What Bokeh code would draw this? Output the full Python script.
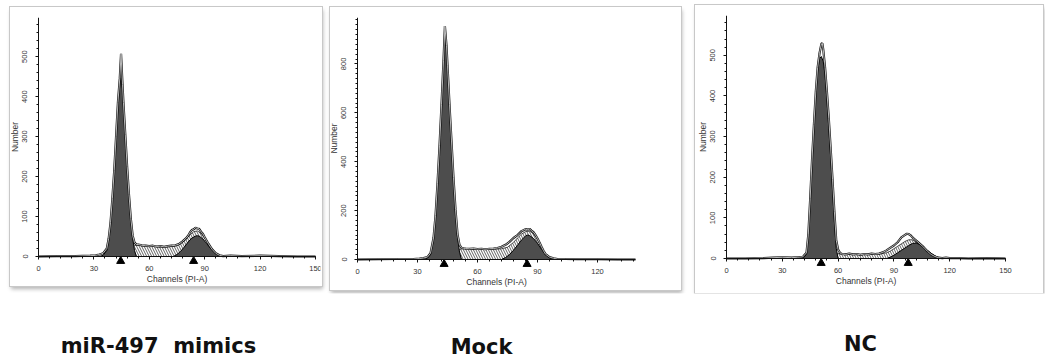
from bokeh.plotting import figure
from bokeh.layouts import row, column
from bokeh.models import Range1d, SingleIntervalTicker
from bokeh.core.properties import value
from bokeh.embed import file_html
from bokeh.resources import INLINE

# ---------------- data ----------------
panel_titles = ["miR-497\u00a0 mimics", "Mock", "NC"]
x_axis_title = "Channels (PI-A)"
y_axis_title = "Number"

# miR-497 mimics
mimics_g1_ch = [33, 35, 37, 38, 39, 40, 41, 42, 43, 44, 44.7, 45.5, 46, 47, 48, 49, 50, 51, 52, 53]
mimics_g1_n = [0, 3, 15, 40, 80, 140, 210, 290, 370, 430, 448, 420, 380, 300, 220, 150, 90, 45, 15, 0]
mimics_s_ch = [48, 50, 52, 54, 58, 62, 66, 70, 74, 77, 80, 82, 84, 86, 88, 90, 92, 94, 96, 98]
mimics_s_n = [0, 20, 28, 28, 26, 25, 24, 24, 26, 32, 44, 54, 62, 64, 58, 46, 30, 16, 6, 0]
mimics_g2_ch = [73, 75, 77, 79, 81, 83, 85, 86, 87, 89, 91, 93, 95, 97, 99]
mimics_g2_n = [0, 5, 13, 24, 36, 46, 51, 52, 51, 44, 33, 21, 11, 4, 0]
mimics_data_ch = [0, 10, 20, 28, 31, 33, 35, 37, 38, 39, 40, 41, 42, 43, 44, 44.7, 45.5, 46, 47, 48,
                  49, 50, 51, 52, 53, 54, 56, 58, 60, 62, 64, 66, 68, 70, 72, 74, 76, 78, 80, 81,
                  82, 83, 84, 85, 86, 87, 88, 89, 90, 91, 92, 94, 96, 98, 100, 104, 110, 120, 130, 140, 150]
mimics_data_n = [0, 1, 1, 2, 3, 5, 8, 20, 45, 85, 145, 215, 300, 385, 445, 507, 430, 385, 305, 225,
                 155, 95, 52, 35, 30, 30, 28, 27, 26, 27, 25, 26, 24, 26, 27, 28, 31, 38, 46, 52,
                 60, 66, 68, 72, 70, 69, 62, 57, 48, 40, 32, 18, 8, 3, 1, 2, 1, 2, 1, 0, 0]
mimics_peaks = [44.5, 84]

# Mock
mock_g1_ch = [33, 35, 36.5, 38, 39, 40, 41, 42, 43, 43.7, 44.5, 45, 46, 47, 48, 49, 50, 51, 52]
mock_g1_n = [0, 5, 20, 80, 170, 300, 450, 620, 800, 925, 860, 780, 620, 470, 320, 190, 90, 30, 0]
mock_s_ch = [47, 49, 51, 53, 56, 60, 64, 68, 72, 75, 78, 80, 82, 84, 86, 88, 90, 92, 94, 96]
mock_s_n = [0, 25, 42, 44, 43, 42, 41, 42, 44, 50, 70, 88, 104, 114, 116, 106, 84, 52, 20, 0]
mock_g2_ch = [72, 74, 76, 78, 80, 82, 84, 85, 86, 88, 90, 92, 94, 96, 98]
mock_g2_n = [0, 8, 20, 38, 58, 80, 96, 100, 98, 86, 66, 42, 20, 6, 0]
mock_data_ch = [0, 10, 20, 28, 31, 33, 35, 36.5, 38, 39, 40, 41, 42, 43, 43.7, 44.5, 45, 46, 47, 48,
                49, 50, 51, 52, 53, 54, 56, 58, 60, 62, 64, 66, 68, 70, 72, 74, 76, 78, 80, 81,
                82, 83, 84, 85, 86, 87, 88, 89, 90, 91, 92, 93, 94, 96, 98, 100, 104, 110, 120, 130, 139]
mock_data_n = [0, 1, 2, 2, 4, 6, 10, 26, 88, 180, 312, 465, 635, 815, 955, 875, 795, 635, 485, 335,
               205, 105, 60, 48, 46, 45, 44, 45, 43, 44, 42, 44, 45, 47, 52, 60, 72, 88, 100, 108,
               116, 120, 124, 122, 125, 118, 112, 100, 86, 70, 52, 36, 22, 10, 5, 2, 2, 1, 1, 0, 0]
mock_peaks = [43.3, 84.8]

# NC
nc_g1_ch = [41, 43, 44, 45, 46, 47, 48, 49, 50, 51, 52, 53, 54, 55, 56, 57, 58, 59, 60]
nc_g1_n = [0, 10, 55, 140, 235, 320, 400, 460, 492, 497, 485, 450, 390, 320, 250, 170, 90, 25, 0]
nc_s_ch = [56, 58, 60, 62, 66, 70, 74, 78, 82, 86, 88, 90, 92, 94, 96, 98, 100, 104, 108, 112, 116]
nc_s_n = [0, 8, 12, 11, 10, 10, 10, 10, 11, 14, 18, 24, 30, 36, 42, 46, 46, 34, 16, 6, 0]
nc_g2_ch = [86, 88, 90, 92, 94, 96, 98, 100, 102, 104, 106, 108, 110, 112, 114, 116]
nc_g2_n = [0, 3, 8, 14, 20, 26, 32, 37, 38, 34, 28, 20, 13, 7, 2, 0]
nc_data_ch = [0, 10, 20, 25, 30, 35, 38, 41, 43, 44, 45, 46, 47, 48, 49, 50, 51, 51.5, 52, 53,
              54, 55, 56, 57, 58, 59, 60, 61, 62, 64, 66, 68, 70, 72, 74, 76, 78, 80, 82, 84,
              86, 88, 90, 92, 93, 94, 95, 96, 97, 98, 99, 100, 101, 102, 104, 106, 108, 110, 112, 114,
              116, 118, 120, 125, 130, 140, 150]
nc_data_n = [0, 0, 1, 2, 3, 2, 3, 4, 14, 60, 148, 245, 330, 410, 470, 505, 528, 530, 515, 470,
             410, 345, 272, 195, 115, 45, 22, 14, 11, 10, 12, 10, 11, 9, 11, 10, 12, 11, 12, 15,
             20, 26, 32, 40, 46, 52, 55, 58, 61, 60, 57, 52, 48, 44, 36, 28, 18, 10, 5, 2,
             1, 2, 1, 1, 0, 1, 0]
nc_peaks = [50.9, 97.7]

# ---------------- styling ----------------
AXIS_FONT = "Liberation Sans"
DARK = "#4d4d4d"


def make_panel(g1, g2, sph, dat, peaks, x_end, y_end, y_step, y_minor,
               axis_w, axis_h, pad, margin):
    # the frame reaches past the axes (both fixed at 0) so that tick labels,
    # axis titles and the peak markers all sit inside it
    left_px, right_px, below_px = pad
    px_x = axis_w / x_end
    px_y = axis_h / y_end
    frame_w = axis_w + left_px + right_px
    frame_h = axis_h + below_px
    p = figure(frame_width=frame_w, frame_height=frame_h,
               x_range=Range1d(-left_px / px_x, x_end + right_px / px_x),
               y_range=Range1d(-below_px / px_y, y_end),
               toolbar_location=None, output_backend="svg", title=None,
               min_border_left=0, min_border_right=2,
               min_border_top=margin[1], min_border_bottom=2,
               margin=(margin[0], 0, 0, margin[2]), background_fill_color="white",
               border_fill_color="white", outline_line_color=None,
               styles={"outline": "1px solid #c8c8c8",
                       "box-shadow": "1px 3px 4px rgba(0,0,0,0.30)"})
    p.grid.visible = False

    # S-phase (hatched)
    p.varea(x=sph[0], y1=0, y2=sph[1], fill_color="white",
            hatch_pattern="left_diagonal_line", hatch_color="#3a3a3a",
            hatch_scale=5, hatch_weight=0.8)
    p.line(sph[0], sph[1], color="#222222", line_width=0.8)
    # G1 / G2 peaks
    for gx, gy in (g1, g2):
        p.varea(x=gx, y1=0, y2=gy, fill_color=DARK)
        p.line(gx, gy, color="black", line_width=1)
    # measured histogram outline
    p.line(dat[0], dat[1], color="#111111", line_width=2.2)
    p.line(dat[0], dat[1], color="#e4e4e4", line_width=0.8)

    # peak markers: small solid triangles under the axis, apex on the axis
    p.scatter(x=peaks, y=[-4.6 / px_y] * len(peaks), marker="triangle",
              size=8, color="black")

    xa = p.xaxis[0]
    ya = p.yaxis[0]
    xa.fixed_location = 0
    ya.fixed_location = 0
    xa.bounds = (0, x_end)
    ya.bounds = (0, y_end)
    xa.ticker = SingleIntervalTicker(interval=30, num_minor_ticks=5)
    ya.ticker = SingleIntervalTicker(interval=y_step, num_minor_ticks=y_minor)
    xa.axis_label = x_axis_title
    ya.axis_label = y_axis_title
    for ax in (xa, ya):
        ax.axis_line_color = "#111111"
        ax.major_tick_line_color = "#111111"
        ax.minor_tick_line_color = "#111111"
        ax.major_tick_out = 3
        ax.major_tick_in = 0
        ax.minor_tick_out = 2
        ax.minor_tick_in = 0
        ax.major_label_text_font = AXIS_FONT
        ax.major_label_text_font_size = "7.5px"
        ax.major_label_text_color = "#333333"
        ax.axis_label_text_font = AXIS_FONT
        ax.axis_label_text_font_size = "8.5px"
        ax.axis_label_text_font_style = "normal"
        ax.axis_label_text_color = "#333333"
        ax.axis_label_standoff = 0
    xa.major_label_standoff = 6
    ya.major_label_standoff = 8
    ya.major_label_orientation = "vertical"
    return p


# axis_w / axis_h: pixel length of the 0..x_end and 0..y_end axes
# pad: (left of x=0, right of x_end, below y=0) in px; margin: (top, border_top, left)
p1 = make_panel((mimics_g1_ch, mimics_g1_n), (mimics_g2_ch, mimics_g2_n),
                (mimics_s_ch, mimics_s_n), (mimics_data_ch, mimics_data_n),
                mimics_peaks, 150, 598, 100, 5,
                277, 239, (28, 5, 30), (7, 8, 10))
p2 = make_panel((mock_g1_ch, mock_g1_n), (mock_g2_ch, mock_g2_n),
                (mock_s_ch, mock_s_n), (mock_data_ch, mock_data_n),
                mock_peaks, 139, 990, 200, 10,
                278, 242, (27, 44, 32), (7, 7, 8))
p3 = make_panel((nc_g1_ch, nc_g1_n), (nc_g2_ch, nc_g2_n),
                (nc_s_ch, nc_s_n), (nc_data_ch, nc_data_n),
                nc_peaks, 150, 598, 100, 5,
                279, 243, (31, 36, 33), (5, 10, 14))

# group labels under the panels
label_x = [158, 481, 860]
label_y = [18, 16.5, 19.5]
lab = figure(width=1045, height=70, x_range=Range1d(0, 1045), y_range=Range1d(0, 70),
             x_axis_location=None, y_axis_location=None, toolbar_location=None,
             output_backend="svg", min_border=0, outline_line_color=None, title=None,
             background_fill_color="white", border_fill_color="white")
lab.grid.visible = False
lab.text(x=label_x, y=label_y, text=panel_titles, text_font=value("DejaVu Sans"),
         text_font_style="bold", text_font_size="21px", text_color="#111111",
         text_align="center", text_baseline="alphabetic")

layout = column(row(p1, p2, p3), lab)
open("out.html", "w").write(file_html(layout, INLINE))
